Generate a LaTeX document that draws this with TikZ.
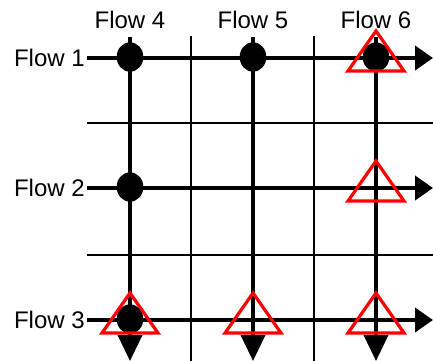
\documentclass[tikz,border=0pt]{standalone}
\usepackage{fontspec}
\setmainfont{Liberation Sans}
\usetikzlibrary{arrows.meta, shapes.geometric}

\begin{document}
\begin{tikzpicture}
        [x=0.75pt, y=-0.75pt,
        every node/.style={font=\fontsize{18pt}{20pt}\selectfont},
        rowlabel/.style={anchor=east, inner sep=1.5pt},
        collabel/.style={anchor=base, inner sep=6pt},
        flowrow/.style={line width=3pt, -{Triangle[length=13.5pt, width=18pt]}},
        flowcol/.style={line width=2.8pt, -{Triangle[length=19.5pt, width=18pt]}},
        gridline/.style={line width=2pt},
        dot/.style={draw=none, ellipse, fill=black, inner sep=0, minimum width=20pt, minimum height=22pt},
        alarm/.pic={\draw[red, line width=2.4pt] (-28,13) -- (0,-27) -- (28,13) -- cycle;}]

        \useasboundingbox (0,0) rectangle (433,361);

        \node[rowlabel] (f1) at (87, 58) {Flow 1};
        \node[rowlabel] (f2) at (87, 188) {Flow 2};
        \node[rowlabel] (f3) at (87, 320) {Flow 3};
        \node[collabel] (f4) at (130, 28) {Flow 4};
        \node[collabel] (f5) at (253, 28) {Flow 5};
        \node[collabel] (f6) at (376, 28) {Flow 6};

        \coordinate (e1) at (433, 58);
        \coordinate (e2) at (433, 188);
        \coordinate (e3) at (433, 320);
        \coordinate (e4) at (130, 361);
        \coordinate (e5) at (253, 361);
        \coordinate (e6) at (376, 361);

        % thin grid
        \draw[gridline] (87, 123) -- (433, 123);
        \draw[gridline] (87, 255) -- (433, 255);
        \draw[gridline] (191, 36) -- (191, 361);
        \draw[gridline] (314, 36) -- (314, 361);

        \draw[flowrow] (f1) -- (e1);
        \draw[flowrow] (f2) -- (e2);
        \draw[flowrow] (f3) -- (e3);
        \draw[flowcol] (f4) -- (e4);
        \draw[flowcol] (f5) -- (e5);
        \draw[flowcol] (f6) -- (e6);

        \node[dot] (d14) at (130, 57) {};
        \node[dot] (d15) at (253, 57) {};
        \node[dot] (d16) at (376, 57) {};
        \node[dot] (d24) at (130, 187) {};
        \node[dot] (d34) at (130, 319) {};

        \pic at (376, 58) {alarm};
        \pic at (376, 188) {alarm};
        \pic at (130, 320) {alarm};
        \pic at (253, 320) {alarm};
        \pic at (376, 320) {alarm};

      \end{tikzpicture}
\end{document}
